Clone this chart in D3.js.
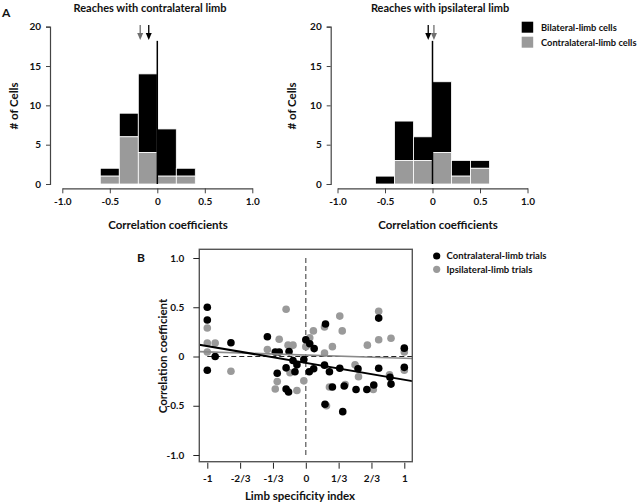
<!DOCTYPE html>
<html><head><meta charset="utf-8">
<script src="https://cdn.jsdelivr.net/npm/d3@7"></script>
<style>body{margin:0;background:#fff}svg{display:block}text{font-family:Lato,"Open Sans",sans-serif;fill:#111;font-weight:700}</style>
</head><body><svg id="c" width="640" height="503"></svg>
<script>
// ---------- DATA ----------
const binStarts = [-0.6,-0.4,-0.2,0,0.2,0.4];
const binWidth = 0.2;
const contraTotal = [2,9,14,7,2,0];
const contraGray  = [1,6,4,1,1,0];
const ipsiTotal   = [1,8,6,13,3,3];
const ipsiGray    = [0,3,3,4,1,2];
const contraMeans = [{v:-0.18,c:"gray"},{v:-0.09,c:"black"}];
const ipsiMeans   = [{v:-0.045,c:"black"},{v:0.015,c:"gray"}];
const histXTicks = [-1,-0.5,0,0.5,1];
const histXLabels = ["-1.0","-0.5","0","0.5","1.0"];
const histYTicks = [0,5,10,15,20];
const zeroLineTop = 18.2;
const legendA = ["Bilateral-limb cells","Contralateral-limb cells"];

const contraTrials = [[-1,0.50],[-1,0.37],[-0.92,0.0],[-1,-0.14],[-0.76,0.14],[-0.39,0.20],[-0.31,0.045],[-0.27,0.045],[-0.17,0.05],[-0.13,-0.04],[-0.09,-0.085],[-0.02,-0.03],[-0.2,-0.115],[-0.11,-0.155],[-0.29,-0.17],[-0.2,-0.33],[-0.175,-0.36],[0,0.17],[0.04,0.13],[0.085,0.08],[0.035,-0.155],[0.08,-0.125],[0.2,0.33],[0.19,-0.088],[0.24,-0.155],[0.345,-0.12],[0.53,-0.125],[0.74,0.39],[0.74,-0.12],[0.855,-0.21],[0.865,-0.28],[1.0,0.085],[1.0,-0.11],[0.27,-0.31],[0.39,-0.30],[0.51,-0.335],[0.62,-0.335],[0.69,-0.29],[0.195,-0.485],[0.375,-0.56]];
const ipsiTrials = [[-1,0.29],[-1,0.136],[-0.92,0.136],[-1,0.045],[-0.76,-0.15],[-0.39,0.07],[-0.27,0.175],[-0.2,0.48],[-0.18,0.115],[-0.13,0.115],[-0.16,-0.165],[-0.29,-0.255],[-0.31,-0.33],[-0.09,-0.345],[-0.02,-0.247],[0,0.10],[0.04,0.19],[0.077,0.26],[0.19,0.30],[0.19,0.035],[0.27,0.10],[0.345,0.41],[0.37,0.26],[0.5,-0.085],[0.535,-0.205],[0.625,0.115],[0.74,0.46],[0.74,0.17],[0.865,0.185],[0.85,-0.186],[1.0,0.045],[1.0,-0.14],[0.21,-0.5],[0.24,-0.31],[0.40,-0.285],[0.685,-0.335]];
const contraFit = {intercept:-0.065, slope:-0.171};
const ipsiFit   = {intercept:0.015, slope:-0.032};
const scatXTicks = [-1,-2/3,-1/3,0,1/3,2/3,1];
const scatXLabels = ["-1","-2/3","-1/3","0","1/3","2/3","1"];
const scatYTicks = [-1,-0.5,0,0.5,1];
const scatYLabels = ["-1.0","-0.5","0","0.5","1.0"];
const legendB = ["Contralateral-limb trials","Ipsilateral-limb trials"];

const GRAY = "#9a9a9a";
const svg = d3.select("#c");

// ---------- PANEL A ----------
function hist(x0, x1, yAxisX, total, gray, means, title, titleX, ylabX, xlabX){
  const x = d3.scaleLinear().domain([-1,1]).range([x0,x1]);
  const y = d3.scaleLinear().domain([0,20]).range([184,26.7]);
  const g = svg.append("g");
  const w = x(binWidth) - x(0);
  binStarts.forEach((b,i)=>{
    if(total[i]>0){
      g.append("rect").attr("x",x(b)).attr("width",w)
        .attr("y",y(total[i])).attr("height",y(gray[i])-y(total[i]))
        .attr("fill","#000").attr("stroke","#fff").attr("stroke-width",0.8);
    }
    if(gray[i]>0){
      g.append("rect").attr("x",x(b)).attr("width",w)
        .attr("y",y(gray[i])).attr("height",y(0)-y(gray[i]))
        .attr("fill",GRAY).attr("stroke","#fff").attr("stroke-width",0.8);
    }
  });
  g.append("line").attr("x1",x(0)).attr("x2",x(0)).attr("y1",y(0)).attr("y2",y(zeroLineTop))
    .attr("stroke","#000").attr("stroke-width",1.5);
  const ya = g.append("g").attr("transform",`translate(${yAxisX},0)`)
    .call(d3.axisLeft(y).tickValues(histYTicks).tickSize(4).tickPadding(5));
  ya.select(".domain").attr("stroke","#444").attr("stroke-width",1.2);
  ya.selectAll(".tick line").attr("stroke","#444");
  ya.selectAll("text").style("font-size","10px");
  const xa = g.append("g").attr("transform",`translate(0,188.3)`)
    .call(d3.axisBottom(x).tickValues(histXTicks).tickFormat((d,i)=>histXLabels[i]).tickSize(5).tickSizeOuter(0).tickPadding(5));
  xa.select(".domain").attr("stroke","#444").attr("stroke-width",1.2);
  xa.selectAll(".tick line").attr("stroke","#444");
  xa.selectAll("text").style("font-size","10px");
  means.forEach(m=>{
    const col = m.c==="gray" ? "#707070" : "#000";
    const ax = x(m.v);
    g.append("line").attr("x1",ax).attr("x2",ax).attr("y1",25).attr("y2",34).attr("stroke",col).attr("stroke-width",1.3);
    g.append("path").attr("d",`M${ax-3},33L${ax+3},33L${ax},40Z`).attr("fill",col);
  });
  g.append("text").attr("x",titleX).attr("y",12).attr("text-anchor","middle")
    .style("font-size","11px").text(title);
  g.append("text").attr("x",xlabX).attr("y",229).attr("text-anchor","middle")
    .style("font-size","11.5px").text("Correlation coefficients");
  g.append("text").attr("transform",`translate(${ylabX},106) rotate(-90)`).attr("text-anchor","middle")
    .style("font-size","11.5px").text("# of Cells");
}
hist(62.3,252.3,50,contraTotal,contraGray,contraMeans,"Reaches with contralateral limb",150,17.5,168);
hist(337.5,527.5,330.7,ipsiTotal,ipsiGray,ipsiMeans,"Reaches with ipsilateral limb",440,295.5,438);

svg.append("text").attr("x",2).attr("y",17).style("font-size","12px").text("A");

[["#000",legendA[0]],[GRAY,legendA[1]]].forEach((d,i)=>{
  svg.append("rect").attr("x",521.7).attr("y",21.7+i*15).attr("width",11.5).attr("height",11).attr("fill",d[0]);
  svg.append("text").attr("x",541).attr("y",27.5+i*15).attr("dy","0.35em")
    .style("font-size","9.3px").text(d[1]);
});

// ---------- PANEL B ----------
const sx = d3.scaleLinear().domain([-1,1]).range([207.3,404.3]);
const sy = d3.scaleLinear().domain([-1,1]).range([455,258]);
const box = {l:199.3,t:249.3,r:412.3,b:461.7};
const gb = svg.append("g");
gb.append("defs").append("clipPath").attr("id","bclip").append("rect")
  .attr("x",box.l).attr("y",box.t).attr("width",box.r-box.l).attr("height",box.b-box.t);
gb.append("line").attr("x1",sx(0)).attr("x2",sx(0)).attr("y1",sy(1)).attr("y2",sy(-1))
  .attr("stroke","#555").attr("stroke-width",1.2).attr("stroke-dasharray","5,3");
gb.append("line").attr("x1",sx(-1)).attr("x2",box.r).attr("y1",sy(0)).attr("y2",sy(0))
  .attr("stroke","#222").attr("stroke-width",1.1).attr("stroke-dasharray","5,3");
const pts = gb.append("g");
pts.selectAll(".ip").data(ipsiTrials).enter().append("circle")
  .attr("cx",d=>sx(d[0])).attr("cy",d=>sy(d[1])).attr("r",3.8).attr("fill",GRAY);
pts.selectAll(".cp").data(contraTrials).enter().append("circle")
  .attr("cx",d=>sx(d[0])).attr("cy",d=>sy(d[1])).attr("r",3.8).attr("fill","#000");
const xl = sx.invert(box.l), xr = sx.invert(box.r);
const fitG = gb.append("g").attr("clip-path","url(#bclip)");
fitG.append("line").attr("x1",box.l).attr("x2",box.r)
  .attr("y1",sy(ipsiFit.intercept+ipsiFit.slope*xl)).attr("y2",sy(ipsiFit.intercept+ipsiFit.slope*xr))
  .attr("stroke","#8a8a8a").attr("stroke-width",1.6);
fitG.append("line").attr("x1",box.l).attr("x2",box.r)
  .attr("y1",sy(contraFit.intercept+contraFit.slope*xl)).attr("y2",sy(contraFit.intercept+contraFit.slope*xr))
  .attr("stroke","#000").attr("stroke-width",2);
gb.append("rect").attr("x",box.l).attr("y",box.t).attr("width",box.r-box.l).attr("height",box.b-box.t)
  .attr("fill","none").attr("stroke","#555").attr("stroke-width",1.4);
const bxa = gb.append("g").attr("transform",`translate(0,${box.b+1})`)
  .call(d3.axisBottom(sx).tickValues(scatXTicks).tickFormat((d,i)=>scatXLabels[i]).tickSize(6).tickPadding(6));
bxa.select(".domain").remove();
bxa.selectAll(".tick line").attr("stroke","#222");
bxa.selectAll("text").style("font-size","10px");
const bya = gb.append("g").attr("transform",`translate(${box.l},0)`)
  .call(d3.axisLeft(sy).tickValues(scatYTicks).tickFormat((d,i)=>scatYLabels[i]).tickSize(6).tickPadding(9));
bya.select(".domain").remove();
bya.selectAll(".tick line").attr("stroke","#222");
bya.selectAll("text").style("font-size","10px");
gb.append("text").attr("x",300).attr("y",500).attr("text-anchor","middle")
  .style("font-size","11.5px").text("Limb specificity index");
gb.append("text").attr("transform",`translate(167,356) rotate(-90)`).attr("text-anchor","middle")
  .style("font-size","11.5px").text("Correlation coefficient");
svg.append("text").attr("x",137).attr("y",262).style("font-size","12px").text("B");
[["#000",legendB[0]],[GRAY,legendB[1]]].forEach((d,i)=>{
  svg.append("circle").attr("cx",436.7).attr("cy",256+i*13.3).attr("r",3.6).attr("fill",d[0]);
  svg.append("text").attr("x",446.5).attr("y",256+i*13.3).attr("dy","0.35em")
    .style("font-size","9.5px").text(d[1]);
});
</script></body></html>
